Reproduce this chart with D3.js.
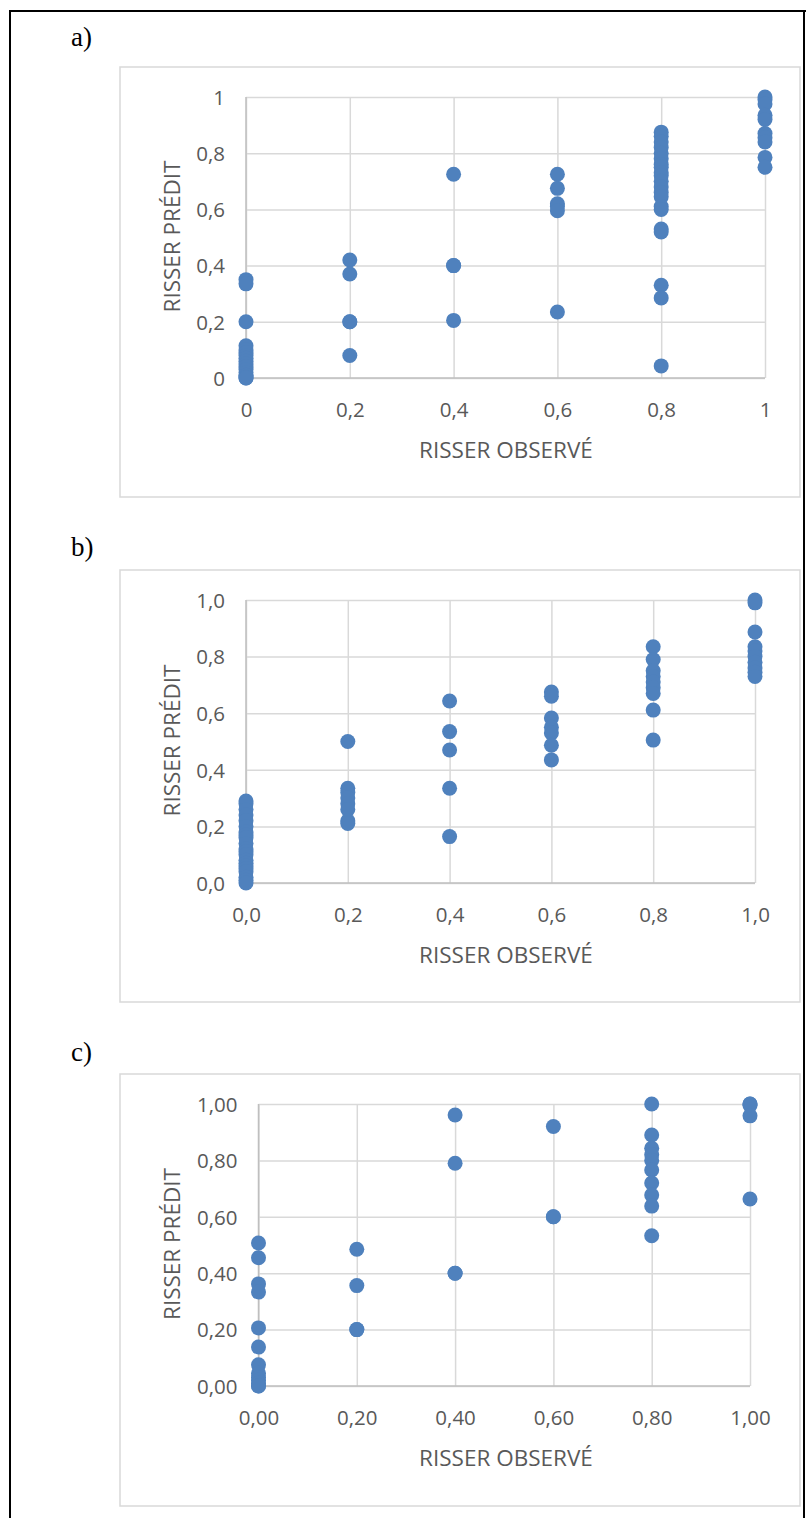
<!DOCTYPE html>
<html>
<head>
<meta charset="utf-8">
<script src="https://cdn.jsdelivr.net/npm/d3@7"></script>
<style>
  html, body { margin: 0; padding: 0; background: #fff; }
  svg { display: block; }
</style>
</head>
<body>
<svg id="chart" width="806" height="1518"></svg>
<script>
// ---------- DATA ----------
const observedLevels = [0, 0.2, 0.4, 0.6, 0.8, 1];

const tickValues = [0, 0.2, 0.4, 0.6, 0.8, 1];
const ticksA = ["0", "0,2", "0,4", "0,6", "0,8", "1"];
const ticksB = ["0,0", "0,2", "0,4", "0,6", "0,8", "1,0"];
const ticksC = ["0,00", "0,20", "0,40", "0,60", "0,80", "1,00"];

const panelLabels = ["a)", "b)", "c)"];
const xTitle = "RISSER OBSERVÉ";
const yTitle = "RISSER PRÉDIT";

// predicted values grouped by observed level (0, 0.2, 0.4, 0.6, 0.8, 1)
const predictedA = [
  [0.35, 0.335, 0.2, 0.115, 0.1, 0.09, 0.08, 0.07, 0.06, 0.05, 0.04, 0.03, 0.02, 0.01, 0.005, 0, 0],
  [0.42, 0.37, 0.2, 0.2, 0.08],
  [0.725, 0.4, 0.4, 0.205],
  [0.725, 0.675, 0.62, 0.61, 0.595, 0.235],
  [0.875, 0.86, 0.84, 0.82, 0.8, 0.78, 0.76, 0.75, 0.73, 0.72, 0.7, 0.68, 0.66, 0.645, 0.61, 0.6, 0.53, 0.52, 0.33, 0.285, 0.043],
  [1.0, 0.99, 0.975, 0.935, 0.92, 0.87, 0.855, 0.84, 0.785, 0.75]
];
const predictedB = [
  [0.29, 0.28, 0.26, 0.24, 0.22, 0.2, 0.18, 0.17, 0.16, 0.14, 0.12, 0.11, 0.1, 0.08, 0.07, 0.06, 0.05, 0.04, 0.02, 0.01, 0.0],
  [0.5, 0.335, 0.32, 0.3, 0.28, 0.26, 0.22, 0.21],
  [0.643, 0.535, 0.47, 0.335, 0.164],
  [0.675, 0.66, 0.583, 0.55, 0.53, 0.487, 0.435],
  [0.835, 0.79, 0.75, 0.73, 0.71, 0.69, 0.67, 0.611, 0.505],
  [1.0, 0.99, 0.887, 0.835, 0.82, 0.8, 0.78, 0.76, 0.745, 0.73]
];
const predictedC = [
  [0.507, 0.455, 0.362, 0.333, 0.206, 0.138, 0.075, 0.045, 0.03, 0.02, 0.01, 0.0, 0.0],
  [0.485, 0.356, 0.2, 0.2],
  [0.961, 0.79, 0.4, 0.4],
  [0.92, 0.6, 0.6],
  [1.0, 0.89, 0.843, 0.82, 0.8, 0.766, 0.72, 0.677, 0.638, 0.533],
  [1.0, 1.0, 0.995, 0.958, 0.663]
];

// ---------- LAYOUT ----------
const panels = [
  { label: panelLabels[0], labelY: 36,   box: [120, 67, 800, 497],   plot: [246, 765, 97, 378],   ticks: ticksA, data: predictedA },
  { label: panelLabels[1], labelY: 546,  box: [120, 570, 800, 1002], plot: [246, 755, 600, 883],  ticks: ticksB, data: predictedB },
  { label: panelLabels[2], labelY: 1051, box: [120, 1074, 800, 1506], plot: [258.5, 750, 1104, 1386], ticks: ticksC, data: predictedC }
];

const svg = d3.select("#chart");
const FONT = "'Open Sans', 'Liberation Sans', sans-serif";
const TXT = "#595959";
const GRID = "#d9d9d9";
const DOT = "#4F81BD";

// outer document frame
svg.append("line").attr("x1", 10).attr("y1", 11).attr("x2", 10).attr("y2", 1518).attr("stroke", "#000").attr("stroke-width", 2);
svg.append("line").attr("x1", 9).attr("y1", 11).attr("x2", 806).attr("y2", 11).attr("stroke", "#000").attr("stroke-width", 2);
svg.append("line").attr("x1", 804).attr("y1", 11).attr("x2", 804).attr("y2", 1518).attr("stroke", "#000").attr("stroke-width", 2);

panels.forEach(p => {
  const g = svg.append("g");
  // panel label
  g.append("text").attr("x", 71).attr("y", p.labelY + 10)
    .attr("font-family", "'Liberation Serif', 'Times New Roman', serif")
    .attr("font-size", 27).attr("fill", "#000").text(p.label);

  // chart box
  const [bx0, by0, bx1, by1] = p.box;
  g.append("rect").attr("x", bx0).attr("y", by0).attr("width", bx1 - bx0).attr("height", by1 - by0)
    .attr("fill", "#fff").attr("stroke", GRID).attr("stroke-width", 1.5);

  const [px0, px1, py0, py1] = p.plot;
  const x = d3.scaleLinear().domain([0, 1]).range([px0, px1]);
  const y = d3.scaleLinear().domain([0, 1]).range([py1, py0]);

  // horizontal gridlines + y tick labels
  const yAxis = d3.axisLeft(y).tickValues(tickValues).tickSize(-(px1 - px0)).tickPadding(21)
    .tickFormat((d, i) => p.ticks[i]);
  const ya = g.append("g").attr("transform", `translate(${px0},0)`).call(yAxis);
  ya.select(".domain").remove();
  ya.selectAll(".tick line").attr("stroke", GRID).attr("stroke-width", 1.5);
  ya.selectAll(".tick text").attr("font-family", FONT).attr("font-size", 20.5).attr("fill", TXT).attr("dy", "0.36em");

  // vertical gridlines + x tick labels
  const xAxis = d3.axisBottom(x).tickValues(tickValues).tickSize(-(py1 - py0)).tickPadding(24)
    .tickFormat((d, i) => p.ticks[i]);
  const xa = g.append("g").attr("transform", `translate(0,${py1})`).call(xAxis);
  xa.select(".domain").remove();
  xa.selectAll(".tick line").attr("stroke", GRID).attr("stroke-width", 1.5);
  xa.selectAll(".tick text").attr("font-family", FONT).attr("font-size", 20.5).attr("fill", TXT);

  // axis lines (slightly darker)
  g.append("line").attr("x1", px0).attr("x2", px1).attr("y1", y(0)).attr("y2", y(0)).attr("stroke", "#bfbfbf").attr("stroke-width", 1.5);
  g.append("line").attr("x1", x(0)).attr("x2", x(0)).attr("y1", py0).attr("y2", py1).attr("stroke", "#bfbfbf").attr("stroke-width", 1.5);

  // titles
  g.append("text").attr("x", (bx0 + bx1) / 2 + 46).attr("y", py1 + 80)
    .attr("text-anchor", "middle").attr("font-family", FONT).attr("font-size", 22.5).attr("fill", TXT).text(xTitle);
  g.append("text").attr("transform", `translate(${180},${(py0 + py1) / 2 - 1}) rotate(-90)`)
    .attr("text-anchor", "middle").attr("font-family", FONT).attr("font-size", 22.5).attr("fill", TXT).text(yTitle);

  // points
  const pts = [];
  p.data.forEach((vals, i) => vals.forEach(v => pts.push([observedLevels[i], v])));
  g.append("g").selectAll("circle").data(pts).join("circle")
    .attr("cx", d => x(d[0])).attr("cy", d => y(d[1])).attr("r", 7.5).attr("fill", DOT);
});
</script>
</body>
</html>
